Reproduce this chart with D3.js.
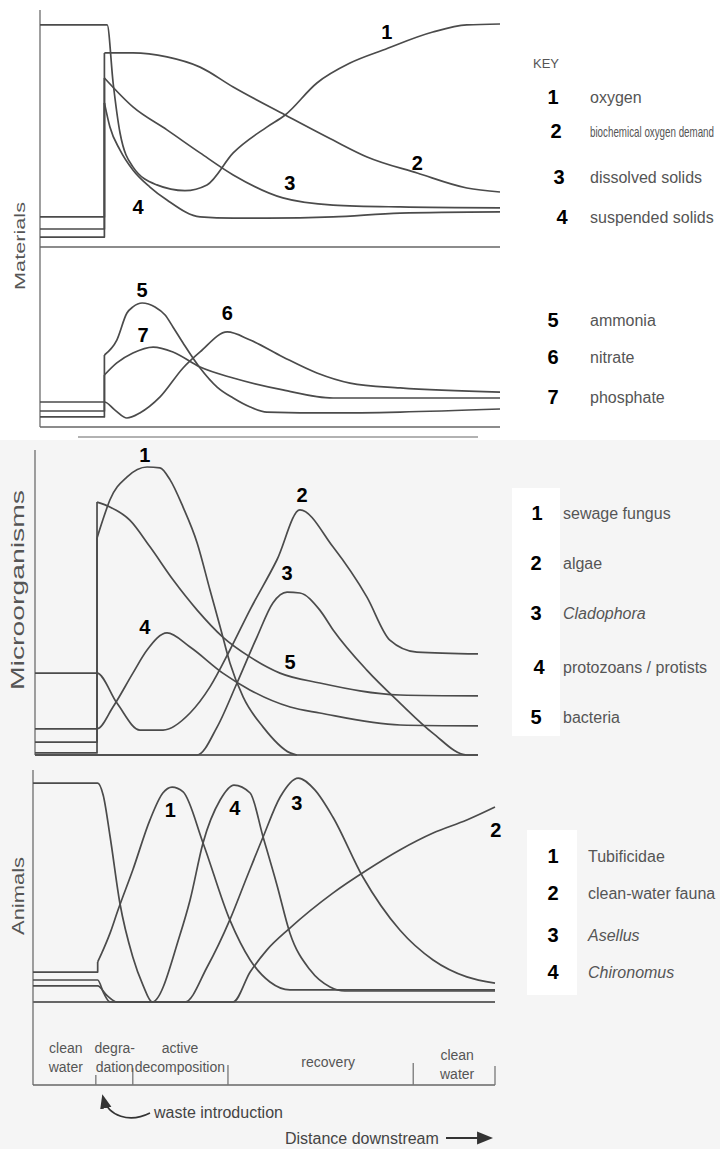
<!DOCTYPE html>
<html>
<head>
<meta charset="utf-8">
<script src="https://cdn.jsdelivr.net/npm/d3@7"></script>
<style>
body { margin: 0; background: #fff; }
svg { display: block; }
</style>
</head>
<body>
<div id="chart"></div>
<script>
// distance downstream runs 0..100, waste comes in at 14
// every level runs 0 (panel baseline) .. 100 (panel top)

// materials, upper part
var oxygen = [[0, 93.7], [14.6, 93.7], [15.9, 69.2], [17.4, 48.1], [20.2, 33.8], [25.4, 26.2], [31.5, 23.8], [36.3, 26.2], [42, 39.7], [49.3, 50.6], [53.3, 55.7], [60.2, 69.2], [67.4, 77.6], [74.6, 83.1], [85.4, 90.7], [92.8, 93.7], [100, 94.1]];
var bod = [[0, 12.7], [14, 12.7], [14, 81.9], [20.2, 81.9], [27.6, 80.2], [34.8, 75.9], [42, 67.5], [53.3, 55.7], [63.7, 45.1], [71.1, 38], [82, 31.2], [92.8, 24.9], [100, 23.2]];
var dissolvedSolids = [[0, 7.6], [14, 7.6], [14, 71.3], [20.2, 59.1], [27.6, 49.4], [34.8, 39.7], [42, 30.4], [52.8, 20.7], [63.7, 17.7], [78.3, 16.9], [100, 16.5]];
var suspendedSolids = [[0, 4.2], [14, 4.2], [14, 60.8], [15.2, 50.6], [17.4, 40.9], [20.2, 32.5], [23.9, 25.3], [27.6, 19.8], [34.8, 12.7], [42, 12.2], [49.3, 12.2], [63.7, 12.7], [78.3, 14.3], [100, 14.8]];

// materials, lower part
var ammonia = [[0, 8.9], [14, 8.9], [14, 40], [16.7, 48.3], [18.9, 63.3], [20.2, 66.7], [22.2, 68.9], [25, 66.7], [27.2, 62.2], [28.9, 55.6], [31.1, 46.7], [34.8, 32.8], [38.5, 22.2], [42, 16.1], [45.7, 11.1], [49.3, 8.3], [63.7, 7.8], [78.3, 8.3], [100, 10]];
var nitrate = [[0, 13.9], [14, 13.9], [16.3, 9.4], [18.9, 5], [21.7, 7.8], [26.1, 16.7], [31.1, 32.8], [34.8, 41.7], [40.7, 52.8], [45.7, 48.3], [52.8, 38.9], [60.2, 30], [67.4, 24.4], [78.3, 21.7], [100, 19.4]];
var phosphate = [[0, 5.6], [14, 5.6], [14, 28.9], [16.7, 35.6], [20.2, 41.1], [24.6, 44.4], [28.9, 41.7], [34.8, 33.3], [42, 27.2], [52.8, 20.6], [63.7, 16.1], [78.3, 16.1], [100, 16.1]];

// microorganisms
var sewageFungus = [[0, 4.3], [14, 4.3], [14, 72.3], [15.3, 78.3], [16.9, 85], [20.8, 92.7], [25.3, 96], [28.2, 95.7], [30.5, 91.7], [33.4, 82.7], [36.6, 70.7], [39.5, 55], [41.8, 42.7], [44, 30.7], [47, 19.3], [51.5, 9.3], [57.6, 0.7], [59.1, 0]];
var algae = [[0, 27.3], [14, 27.3], [18.5, 17.3], [23.7, 8.3], [28.9, 8.3], [35, 14], [39.5, 22.7], [44, 35], [48.5, 48.3], [54.6, 65], [59.8, 81.7], [67.3, 69.3], [74.9, 52.7], [80.1, 38.3], [86.2, 34.3], [100, 33.7]];
var cladophora = [[0, 0], [36.6, 0], [41.1, 9.3], [45.6, 24], [50.1, 39.3], [53.7, 50.7], [56.9, 54.3], [59.8, 54], [64.3, 48.3], [67.3, 41.7], [74.9, 28.3], [82.4, 17.3], [89.8, 7.3], [97.5, 0], [100, 0]];
var protozoa = [[0, 8.7], [14, 8.7], [17.6, 16], [22.1, 27.3], [25.3, 35], [29.8, 40.7], [35, 36], [42.4, 27.3], [48.5, 21.7], [57.6, 16], [64.3, 14], [82.4, 10], [100, 9.7]];
var bacteria = [[0, 0.7], [14, 0.7], [14, 84.3], [16.9, 82.7], [21.4, 78.3], [26, 69.3], [31.2, 58.3], [36.6, 48.3], [42.4, 39.3], [48.5, 32.7], [55.3, 27.3], [64.3, 24], [82.4, 20], [100, 19.7]];

// animals
var tubificidae = [[0, 13.6], [14, 13.6], [14, 18.2], [14.9, 22.3], [16.7, 31.4], [18.4, 41.8], [21.6, 60], [25.3, 82.7], [28.1, 95], [30.1, 97.7], [32.5, 95.5], [36.8, 72.3], [42.6, 37.3], [47, 19.1], [51.3, 9.1], [55.6, 5.5], [100, 5.5]];
var cleanWaterFauna = [[0, 99.5], [14, 99.5], [15.2, 94], [16.7, 75], [18.8, 45], [21.6, 20.5], [23.8, 7.7], [25.8, 0], [43.3, 0], [47, 13.6], [50.6, 23.6], [55.6, 33.6], [64.9, 49.5], [72.3, 60], [79.4, 69.1], [86.6, 76.8], [93.9, 82.7], [100, 88.6]];
var asellus = [[0, 7.3], [14, 7.3], [16, 3], [18.2, 0], [32.9, 0], [37.7, 15.9], [42.6, 37.3], [46.3, 56.8], [49.8, 75], [53.5, 93.2], [57.4, 101.8], [61, 96.4], [64.9, 84.1], [71.4, 56.8], [79.4, 32.7], [86.6, 19.1], [93.9, 11.4], [100, 8.6]];
var chironomus = [[0, 10], [14, 10], [15.3, 4], [16.7, 0], [25.8, 0], [31.8, 30.5], [34, 46.4], [36.8, 72.3], [40.5, 91.8], [43.5, 98.6], [47, 95], [49.8, 75], [52.8, 53.2], [55.6, 31.4], [60, 14.5], [64.3, 6.8], [67.5, 5], [100, 5]];

// numbers written next to the curves: [text, distance, level]
var upperTags = [["1", 75.4, 90.7], ["2", 82, 35.4], ["3", 54.3, 27], ["4", 21.3, 16.9]];
var lowerTags = [["5", 22.2, 76.1], ["6", 40.7, 63.3], ["7", 22.4, 51.1]];
var microTags = [["1", 24.8, 100], ["2", 60.3, 86.7], ["3", 56.9, 60.7], ["4", 24.8, 42.7], ["5", 57.6, 31]];
var animalTags = [["1", 29.7, 87.3], ["4", 43.7, 88.2], ["3", 57.1, 90.5], ["2", 100.2, 78.2]];

// key entries
var materialKey = ["oxygen", "biochemical oxygen demand", "dissolved solids", "suspended solids", "ammonia", "nitrate", "phosphate"];
var microKey = ["sewage fungus", "algae", "Cladophora", "protozoans / protists", "bacteria"];
var animalKey = ["Tubificidae", "clean-water fauna", "Asellus", "Chironomus"];

// stretches of river along the bottom
var zoneEdges = [13.6, 21.6, 42.2, 82.3, 100];
var zoneCenters = [7.1, 17.7, 31.8, 63.9, 91.8];
var zoneNames = [["clean", "water"], ["degra-", "dation"], ["active", "decomposition"], ["recovery"], ["clean", "water"]];

var width = 720, height = 1149;
var ink = "#4b4b4b";
var font = "'Liberation Sans', Arial, sans-serif";

var svg = d3.select("#chart").append("svg")
    .attr("width", width)
    .attr("height", height);

svg.append("rect").attr("width", width).attr("height", height).attr("fill", "#fff");
svg.append("rect").attr("y", 440).attr("width", width).attr("height", height - 440).attr("fill", "#f5f5f5");
svg.append("rect").attr("x", 512).attr("y", 488).attr("width", 48).attr("height", 248).attr("fill", "#fff");
svg.append("rect").attr("x", 527).attr("y", 830).attr("width", 50).attr("height", 165).attr("fill", "#fff");

var defs = svg.append("defs");
defs.append("marker")
    .attr("id", "head")
    .attr("viewBox", "0 0 10 10")
    .attr("refX", 8).attr("refY", 5)
    .attr("markerWidth", 9).attr("markerHeight", 9)
    .attr("orient", "auto")
    .append("path")
    .attr("d", "M0,1 L10,5 L0,9 z")
    .attr("fill", "#333");

// scales for each panel
var xTop = d3.scaleLinear().domain([0, 100]).range([40, 500]);
var yUpper = d3.scaleLinear().domain([0, 100]).range([247, 10]);
var yLower = d3.scaleLinear().domain([0, 100]).range([427, 247]);
var xMicro = d3.scaleLinear().domain([0, 100]).range([35, 478]);
var yMicro = d3.scaleLinear().domain([0, 100]).range([755, 455]);
var xAnimal = d3.scaleLinear().domain([0, 100]).range([33, 495]);
var yAnimal = d3.scaleLinear().domain([0, 100]).range([1002, 782]);

function drawSeries(g, pts, xs, ys) {
    var straight = d3.line().x(d => xs(d[0])).y(d => ys(d[1]));
    var smooth = d3.line().x(d => xs(d[0])).y(d => ys(d[1])).curve(d3.curveMonotoneX);
    var jump = pts.findIndex((p, i) => i > 0 && p[0] === pts[i - 1][0]);
    if (jump > 0) {
        g.append("path").attr("d", straight(pts.slice(0, jump + 1)));
        g.append("path").attr("d", smooth(pts.slice(jump)));
    } else {
        g.append("path").attr("d", smooth(pts));
    }
}

function drawPanel(list, xs, ys) {
    var g = svg.append("g")
        .attr("fill", "none")
        .attr("stroke", ink)
        .attr("stroke-width", 1.7)
        .attr("stroke-linejoin", "round");
    list.forEach(function (s) { drawSeries(g, s, xs, ys); });
}

function drawTags(tags, xs, ys) {
    svg.append("g").selectAll("text")
        .data(tags)
        .join("text")
        .attr("x", d => xs(d[1]))
        .attr("y", d => ys(d[2]))
        .attr("text-anchor", "middle")
        .attr("dominant-baseline", "central")
        .attr("font-family", font)
        .attr("font-weight", "bold")
        .attr("font-size", 20)
        .attr("fill", "#000")
        .text(d => d[0]);
}

function hline(x1, x2, y, w) {
    svg.append("line").attr("x1", x1).attr("x2", x2).attr("y1", y).attr("y2", y)
        .attr("stroke", "#666").attr("stroke-width", w || 1.6);
}
function vline(x, y1, y2, w) {
    svg.append("line").attr("x1", x).attr("x2", x).attr("y1", y1).attr("y2", y2)
        .attr("stroke", "#777").attr("stroke-width", w || 1.4);
}

// frames
vline(xTop(0), yUpper(100), yLower(0));
hline(xTop(0), xTop(100), yUpper(0));
hline(xTop(0), xTop(100), yLower(0));
hline(78, xMicro(100), 437, 1.2);
vline(xMicro(0), yMicro(101.7), yMicro(0));
hline(xMicro(0), xMicro(100), yMicro(0), 1.8);
vline(xAnimal(0), yAnimal(105.5), 1085);
hline(xAnimal(0), xAnimal(100), yAnimal(0), 2);
hline(xAnimal(0), xAnimal(100), 1085, 1.6);

drawPanel([oxygen, bod, dissolvedSolids, suspendedSolids], xTop, yUpper);
drawPanel([ammonia, nitrate, phosphate], xTop, yLower);
drawPanel([sewageFungus, algae, cladophora, protozoa, bacteria], xMicro, yMicro);
drawPanel([tubificidae, cleanWaterFauna, asellus, chironomus], xAnimal, yAnimal);

drawTags(upperTags, xTop, yUpper);
drawTags(lowerTags, xTop, yLower);
drawTags(microTags, xMicro, yMicro);
drawTags(animalTags, xAnimal, yAnimal);

// axis titles, stretched like the scan
function sideTitle(txt, x, cy, len, size) {
    svg.append("text")
        .attr("transform", "translate(" + x + "," + cy + ") rotate(-90)")
        .attr("text-anchor", "middle")
        .attr("font-family", font)
        .attr("font-size", size)
        .attr("fill", "#555")
        .attr("textLength", len)
        .attr("lengthAdjust", "spacingAndGlyphs")
        .text(txt);
}
sideTitle("Materials", 25, 246, 88, 15);
sideTitle("Microorganisms", 24, 590, 200, 18);
sideTitle("Animals", 24, 896, 78, 16);

// keys; a name too long for the page is squeezed to end at the edge
function drawKey(items, ys, numX, textX, italics) {
    items.forEach(function (name, i) {
        svg.append("text")
            .attr("x", numX[i]).attr("y", ys[i])
            .attr("text-anchor", "middle")
            .attr("dominant-baseline", "central")
            .attr("font-family", font)
            .attr("font-weight", "bold")
            .attr("font-size", 20)
            .text(i + 1);
        var t = svg.append("text")
            .attr("x", textX).attr("y", ys[i])
            .attr("dominant-baseline", "central")
            .attr("font-family", font)
            .attr("font-size", 16)
            .attr("font-style", italics.indexOf(name) >= 0 ? "italic" : "normal")
            .attr("fill", "#555")
            .text(name);
        var room = width - 4 - textX;
        if (t.node().getComputedTextLength() > room) {
            t.attr("font-size", 15)
                .attr("textLength", room - 2)
                .attr("lengthAdjust", "spacingAndGlyphs");
        }
    });
}

svg.append("text").attr("x", 533).attr("y", 68)
    .attr("font-family", font).attr("font-size", 13).attr("fill", "#555").text("KEY");
drawKey(materialKey, [97, 131, 177, 217, 320, 357, 397], [553, 556, 559, 562, 553, 553, 553], 590, []);
drawKey(microKey, [513, 563, 613, 667, 717], [537, 536, 536, 539, 536], 563, ["Cladophora"]);
drawKey(animalKey, [856, 893, 935, 972], [553, 553, 553, 553], 588, ["Asellus", "Chironomus"]);

// river stretches along the bottom
var dividerTops = [1075, 1068, 1065, 1063, 1066];
zoneEdges.forEach(function (e, i) {
    vline(xAnimal(e), dividerTops[i], 1085, 1.3);
});
var zoneTop = [1048, 1048, 1048, 1062, 1055];
zoneNames.forEach(function (lines, i) {
    lines.forEach(function (t, j) {
        svg.append("text")
            .attr("x", xAnimal(zoneCenters[i]))
            .attr("y", zoneTop[i] + j * 19)
            .attr("text-anchor", "middle")
            .attr("dominant-baseline", "central")
            .attr("font-family", font)
            .attr("font-size", 14)
            .attr("fill", "#555")
            .text(t);
    });
});

// waste introduction arrow
svg.append("path")
    .attr("d", "M150,1113 C130,1123 108,1117 103,1097")
    .attr("fill", "none")
    .attr("stroke", "#333")
    .attr("stroke-width", 1.6)
    .attr("marker-end", "url(#head)");
svg.append("text").attr("x", 154).attr("y", 1118)
    .attr("font-family", font).attr("font-size", 16).attr("fill", "#444")
    .text("waste introduction");

svg.append("text").attr("x", 285).attr("y", 1144)
    .attr("font-family", font).attr("font-size", 16).attr("fill", "#444")
    .text("Distance downstream");
svg.append("line")
    .attr("x1", 446).attr("x2", 490).attr("y1", 1138).attr("y2", 1138)
    .attr("stroke", "#333").attr("stroke-width", 1.8)
    .attr("marker-end", "url(#head)");
</script>
</body>
</html>
